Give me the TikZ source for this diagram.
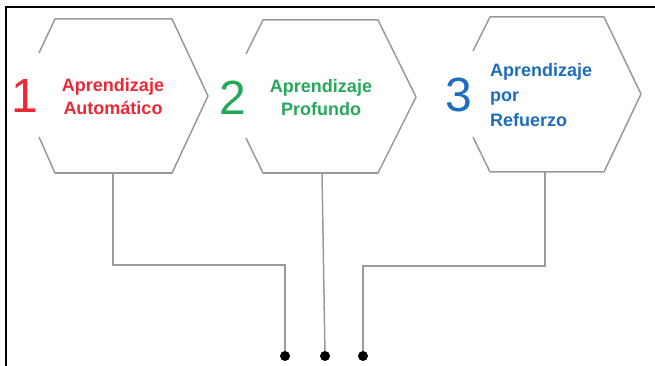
\documentclass[tikz,border=0pt]{standalone}
\usepackage{fontspec}
\setmainfont{Liberation Sans}
\definecolor{mlred}{RGB}{236,40,52}
\definecolor{dlgreen}{RGB}{38,168,88}
\definecolor{rlblue}{RGB}{30,108,190}
\begin{document}
\begin{tikzpicture}[x=1pt,y=-1pt,inner sep=0pt,outer sep=0pt,
hexline/.style={draw=gray!80,line width=1.5pt},
wire/.style={draw=gray!80,line width=1.5pt},
numtxt/.style={font=\fontsize{48}{48}\selectfont},
lbltxt/.style={font=\fontsize{18}{23}\selectfont\bfseries,align=center},
enddot/.style={circle,fill=black,minimum size=10pt}]
\useasboundingbox (0,0) rectangle (655,366);
\draw[line width=2pt] (655,7) -- (6,7) -- (6,366);
% hexagons, left side left open for the numbers
\draw[hexline] (39,53) -- (55,19) -- (172,19) -- (208,96) -- (172,173) -- (55,173) -- (39,137);
\draw[hexline] (246,54) -- (263,20) -- (378,20) -- (416,97) -- (378,173) -- (263,173) -- (246,138);
\draw[hexline] (473,51) -- (490,17) -- (604,17) -- (641,94) -- (604,172) -- (490,172) -- (473,137);
\node[numtxt,text=mlred] (n1) at (25,96) {1};
\node[numtxt,text=dlgreen] (n2) at (233,98) {2};
\node[numtxt,text=rlblue] (n3) at (459,95) {3};
\node[lbltxt,text=mlred] (t1) at (113,97) {Aprendizaje\\Automático};
\node[lbltxt,text=dlgreen] (t2) at (321,98) {Aprendizaje\\Profundo};
\node[lbltxt,text=rlblue,align=left,anchor=west,font=\fontsize{18}{25}\selectfont\bfseries] (t3) at (490,95) {Aprendizaje\\por\\Refuerzo};
% connectors
\coordinate (b1) at (113,173);
\coordinate (b2) at (322,173);
\coordinate (b3) at (545,172);
\coordinate (k1) at (200,265);
\coordinate (k3) at (450,266);
\node[enddot] (d1) at (285,356) {};
\node[enddot] (d2) at (325,356) {};
\node[enddot] (d3) at (363,356) {};
\draw[wire] (b1) |- (k1) -| (d1);
\draw[wire] (b2) -- (d2);
\draw[wire] (b3) |- (k3) -| (d3);
\end{tikzpicture}
\end{document}
